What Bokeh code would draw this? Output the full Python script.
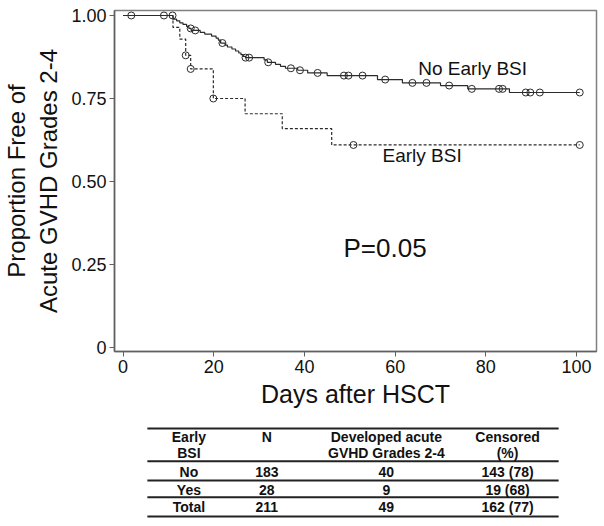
from bokeh.plotting import figure
from bokeh.layouts import column
from bokeh.models import Range1d, FixedTicker, Label
from bokeh.core.properties import value
from bokeh.embed import file_html
from bokeh.resources import INLINE

FONT = "Liberation Sans"

# ---- Kaplan-Meier data ----
no_bsi_t = [0, 11.0, 11.8, 12.5, 13.2, 14.0, 14.5, 15.0, 17.0, 18.0, 19.5, 20.5, 21.0, 21.5,
            22.5, 23.0, 24.0, 24.8, 25.5, 26.0, 26.5, 27.0, 31.1, 31.8, 33.6, 34.7, 35.8,
            38.5, 40.7, 45.0, 56.1, 61.6, 70.0, 76.0, 85.2, 100.7]
no_bsi_s = [1.0, 0.989, 0.984, 0.978, 0.973, 0.967, 0.961, 0.955, 0.949, 0.944, 0.938, 0.932,
            0.926, 0.917, 0.911, 0.905, 0.899, 0.893, 0.887, 0.882, 0.877, 0.873, 0.866,
            0.859, 0.853, 0.847, 0.841, 0.835, 0.827, 0.819, 0.807, 0.797, 0.789, 0.779,
            0.768, 0.768]
no_bsi_cens = [1.8, 9.0, 10.9, 14.9, 15.9, 21.9, 27.0, 27.8, 32.0, 37.0, 39.0, 42.9, 48.7,
               49.7, 52.8, 57.8, 63.8, 66.9, 71.9, 76.9, 82.9, 83.7, 88.8, 89.8, 91.9, 100.7]

bsi_t = [0, 11.0, 12.5, 13.8, 14.9, 19.9, 26.9, 35.1, 46.0, 100.7]
bsi_s = [1.0, 0.964, 0.929, 0.880, 0.839, 0.750, 0.704, 0.659, 0.610, 0.610]
bsi_cens = [13.8, 14.9, 19.9, 50.8, 100.7]

y_ticks = [0, 0.25, 0.5, 0.75, 1.0]
y_tick_labels = ["0", "0.25", "0.50", "0.75", "1.00"]
x_ticks = [0, 20, 40, 60, 80, 100]

# ---- table data ----
tbl_head1 = ["Early", "N", "Developed acute", "Censored"]
tbl_head2 = ["BSI", "", "GVHD Grades 2-4", "(%)"]
tbl_group = ["No", "Yes", "Total"]
tbl_n = ["183", "28", "211"]
tbl_dev = ["40", "9", "49"]
tbl_cens = ["143 (78)", "19 (68)", "162 (77)"]


def step_at(ts, ss, t):
    val = ss[0]
    for ti, si in zip(ts, ss):
        if ti <= t:
            val = si
    return val


LINE = "#2b2b2b"

p = figure(width=600, height=410, output_backend="svg", toolbar_location=None,
           x_range=Range1d(-1.9, 104.4), y_range=Range1d(-0.012, 1.015),
           min_border_left=112, min_border_right=4, min_border_top=10, min_border_bottom=59)
p.grid.visible = False
p.outline_line_color = "#808080"
p.outline_line_width = 1.5
p.background_fill_color = "white"

p.step(no_bsi_t, no_bsi_s, mode="after", line_color=LINE, line_width=1.2)
p.step(bsi_t, bsi_s, mode="after", line_color=LINE, line_width=1.2, line_dash="3 2")

p.scatter(no_bsi_cens, [step_at(no_bsi_t, no_bsi_s, t) for t in no_bsi_cens],
          marker="circle", size=7, fill_alpha=0, line_color=LINE, line_width=1)
p.scatter(bsi_cens, [step_at(bsi_t, bsi_s, t) for t in bsi_cens],
          marker="circle", size=7, fill_alpha=0, line_color=LINE, line_width=1)

p.add_layout(Label(x=65.1, y=0.840, text="No Early BSI", text_baseline="middle",
                   text_font=FONT, text_font_size="19px", text_color="#111111"))
p.add_layout(Label(x=57.2, y=0.578, text="Early BSI", text_baseline="middle",
                   text_font=FONT, text_font_size="19px", text_color="#111111"))
p.add_layout(Label(x=48.6, y=0.301, text="P=0.05", text_baseline="middle",
                   text_font=FONT, text_font_size="26px", text_color="#111111"))

for ax in (p.xaxis[0], p.yaxis[0]):
    ax.axis_line_color = "#606060"
    ax.axis_line_width = 1.5
    ax.major_tick_line_color = "#606060"
    ax.major_tick_in = 0
    ax.major_tick_out = 5
    ax.minor_tick_line_color = None
    ax.major_label_text_font = FONT
    ax.major_label_text_font_size = "18px"
    ax.major_label_text_color = "#111111"
    ax.major_label_standoff = 3
    ax.axis_label_text_font = FONT
    ax.axis_label_text_font_style = "normal"
    ax.axis_label_text_color = "#111111"

p.xaxis.ticker = FixedTicker(ticks=x_ticks)
p.xaxis.axis_label = "Days after HSCT"
p.xaxis.axis_label_text_font_size = "25px"
p.xaxis.axis_label_standoff = 4

p.yaxis.ticker = FixedTicker(ticks=y_ticks)
p.yaxis.major_label_overrides = {t: l for t, l in zip(y_ticks, y_tick_labels)}
p.yaxis.major_label_orientation = "horizontal"
p.yaxis.axis_label = "Proportion Free of\nAcute GVHD Grades 2-4"
p.yaxis.axis_label_text_font_size = "24px"
p.yaxis.axis_label_standoff = 6

# ---- table figure (its frame is aligned with the plot frame: 112..596 px) ----
t = figure(width=600, height=110, output_backend="svg", toolbar_location=None,
           x_range=Range1d(112, 596), y_range=Range1d(520, 410),
           x_axis_location=None, y_axis_location=None,
           min_border=0, min_border_left=0, min_border_right=0,
           min_border_top=0, min_border_bottom=0)
t.grid.visible = False
t.outline_line_color = None

col_x = [186.7, 265, 385, 506.7]
rule_y = [428, 460.7, 480, 496.7, 516]
t.segment(x0=[145] * len(rule_y), x1=[558] * len(rule_y), y0=rule_y, y1=rule_y,
          line_color="#222222", line_width=2)

txt = dict(text_align="center", text_baseline="middle", text_font=value(FONT),
           text_font_style="bold", text_font_size="14px", text_color="#111111")
t.text(x=col_x, y=[436.7] * 4, text=tbl_head1, **txt)
t.text(x=col_x, y=[452.7] * 4, text=tbl_head2, **txt)
row_y = [471, 489, 506.7]
for cx, vals in zip(col_x, [tbl_group, tbl_n, tbl_dev, tbl_cens]):
    t.text(x=[cx] * len(vals), y=row_y, text=vals, **txt)

layout = column(p, t, spacing=0)
open("out.html", "w").write(file_html(layout, INLINE))
